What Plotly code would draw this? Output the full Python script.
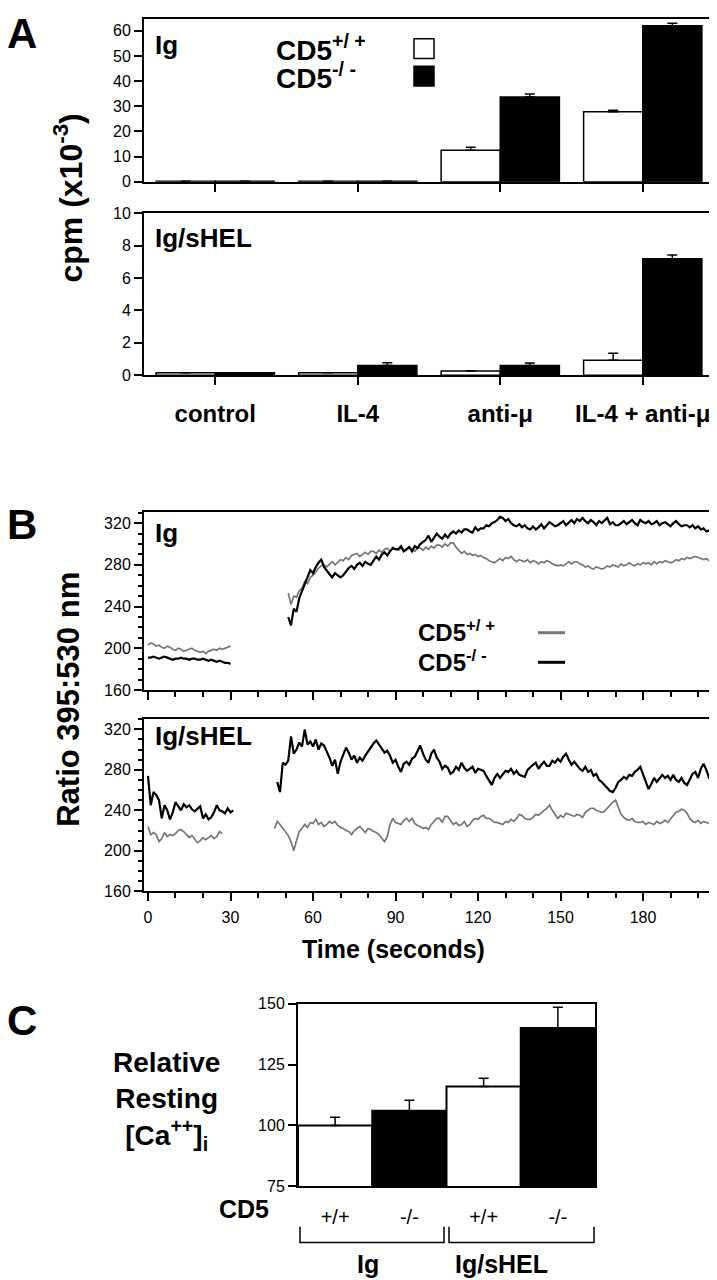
import plotly.graph_objects as go

W, H = 717, 1280
def px(x): return x / W
def py(y): return 1 - y / H

FONT = "Liberation Sans, Arial, Helvetica, sans-serif"

# ---------------- Panel A data ----------------
categories = ["control", "IL-4", "anti-μ", "IL-4 + anti-μ"]
ig_wt = [0.2, 0.2, 12.5, 27.8]
ig_wt_err = [0, 0, 1.2, 0.6]
ig_ko = [0.2, 0.2, 33.7, 62.0]
ig_ko_err = [0, 0, 1.2, 1.0]
shel_wt = [0.15, 0.15, 0.25, 0.92]
shel_wt_err = [0, 0, 0, 0.43]
shel_ko = [0.15, 0.6, 0.6, 7.2]
shel_ko_err = [0, 0.17, 0.15, 0.22]

# ---------------- Panel B data (ratio 395:530, 1 s sampling) ----------------
ig_wt_t0_a = 0
ig_wt_a = [203,205,204,202,203,201,200,202,201,199,198,200,199,197,198,199,200,198,197,196,
           197,195,197,198,199,198,200,199,200,201,202]
ig_ko_t0_a = 0
ig_ko_a = [191,191,192,191,190,191,192,191,190,189,190,190,191,190,190,189,190,190,189,189,
           190,189,188,189,188,187,188,187,186,186,185]
ig_wt_t0_b = 51
ig_wt_b = [253,242,250,249,255,258,264,262,268,270,
           273,277,279,280,278,281,283,280,283,285,
           284,287,285,289,290,291,288,290,292,290,
           293,293,291,294,292,295,296,293,297,295,
           294,296,293,294,297,295,293,296,296,294,
           297,295,298,296,299,299,297,300,298,301,
           301,297,294,291,293,290,291,289,290,288,
           289,287,286,284,283,282,284,286,284,287,
           286,288,285,283,285,284,283,285,282,284,
           283,281,283,282,284,283,281,280,279,280,
           279,281,283,281,283,283,281,280,278,279,
           277,276,278,277,276,277,279,278,280,279,
           278,281,279,280,282,280,279,281,280,282,
           281,282,280,283,281,283,282,284,283,282,
           283,285,284,286,285,287,286,287,288,287,
           286,285,286,284,283]
ig_ko_t0_b = 51
ig_ko_b = [230,222,238,235,248,255,262,268,275,272,
           278,282,285,278,274,271,268,272,270,268,
           270,274,277,279,276,280,282,279,283,281,
           280,284,288,285,290,292,289,293,296,295,
           295,298,293,295,297,293,298,296,300,302,
           304,308,302,306,310,307,305,309,306,310,
           312,310,313,311,314,314,312,311,316,313,
           315,315,318,317,320,321,323,326,325,322,
           324,320,318,317,319,316,318,315,314,317,
           314,316,319,315,318,321,319,317,318,320,
           322,318,321,323,320,324,322,325,322,320,
           323,321,318,322,320,323,325,319,321,318,
           318,320,322,319,321,323,320,318,323,321,
           320,322,319,320,322,318,320,321,319,317,
           320,322,319,317,318,318,316,318,315,317,
           314,315,312,313,312]

shel_wt_t0_a = 0
shel_wt_a = [224,216,218,216,209,212,218,214,216,215,217,220,221,219,216,213,215,212,208,210,
             213,211,213,215,212,214,219,217]
shel_ko_t0_a = 0
shel_ko_a = [274,245,258,255,250,232,245,240,231,238,248,244,240,246,243,245,241,239,242,244,
             232,236,231,233,238,245,240,239,237,242,238,240]
shel_wt_t0_b = 46
shel_wt_b = [222,229,226,222,218,215,209,200,210,219,
             222,226,223,228,227,231,226,228,224,226,
             229,227,229,225,223,222,220,219,216,220,
             222,224,221,218,222,221,219,218,216,213,
             209,214,226,232,228,227,226,230,232,229,
             232,227,225,224,222,223,221,226,229,232,
             232,228,234,234,230,226,228,225,226,229,
             224,226,230,232,231,234,235,232,232,230,
             228,228,227,226,229,228,231,229,232,236,
             235,232,231,231,233,236,235,238,240,242,
             245,240,236,232,235,233,237,236,235,234,
             236,235,233,238,240,242,242,240,239,238,
             239,242,246,248,250,242,236,233,231,230,
             232,229,228,228,229,226,228,227,226,229,
             227,228,230,228,231,235,238,239,241,240,
             237,232,229,228,230,227,229,228,227,228]
shel_ko_t0_b = 47
shel_ko_b = [268,258,287,285,289,313,296,300,307,303,
             320,305,308,303,310,300,306,304,298,292,
             284,290,276,288,295,302,297,290,294,287,
             292,289,294,298,303,306,309,305,300,297,
             299,294,287,290,283,278,286,288,285,291,
             293,298,304,296,290,287,296,300,292,288,
             281,284,282,276,278,283,280,287,282,279,
             281,283,277,281,280,279,274,270,265,272,
             276,272,276,279,278,281,276,279,275,274,
             273,280,283,285,287,281,285,288,284,284,
             289,287,291,288,293,296,290,285,288,284,
             281,279,283,278,280,274,276,270,268,265,
             262,259,258,262,268,270,273,271,275,274,
             278,280,283,276,270,261,266,272,268,271,
             275,272,274,270,275,270,268,272,267,265,
             270,276,278,272,281,286,280,272,273]

time_ticks = [0, 30, 60, 90, 120, 150, 180]
ratio_ticks = [160, 200, 240, 280, 320]

# ---------------- Panel C data ----------------
c_labels = ["+/+", "-/-", "+/+", "-/-"]
c_values = [100, 106, 116, 140]
c_err = [3.4, 4.3, 3.4, 8.5]
c_colors = ["white", "black", "white", "black"]
c_ticks = [75, 100, 125, 150]

def join(t0a, a, t0b, b):
    xs = [t0a + i for i in range(len(a))] + [None] + [t0b + i for i in range(len(b))]
    ys = list(a) + [None] + list(b)
    return xs, ys

GRAY = "#767676"
fig = go.Figure()

def err(arr):
    return dict(type="data", array=arr, arrayminus=[0] * len(arr), symmetric=False,
                color="black", thickness=1.5, width=5)

# Panel A top
fig.add_trace(go.Bar(x=categories, y=ig_wt, error_y=err(ig_wt_err), marker=dict(color="white", line=dict(color="black", width=1.5)),
                     xaxis="x", yaxis="y", showlegend=False))
fig.add_trace(go.Bar(x=categories, y=ig_ko, error_y=err(ig_ko_err), marker=dict(color="black", line=dict(color="black", width=1.5)),
                     xaxis="x", yaxis="y", showlegend=False))
# Panel A bottom
fig.add_trace(go.Bar(x=categories, y=shel_wt, error_y=err(shel_wt_err), marker=dict(color="white", line=dict(color="black", width=1.5)),
                     xaxis="x2", yaxis="y2", showlegend=False))
fig.add_trace(go.Bar(x=categories, y=shel_ko, error_y=err(shel_ko_err), marker=dict(color="black", line=dict(color="black", width=1.5)),
                     xaxis="x2", yaxis="y2", showlegend=False))

# Panel B
x, y = join(ig_wt_t0_a, ig_wt_a, ig_wt_t0_b, ig_wt_b)
fig.add_trace(go.Scatter(x=x, y=y, mode="lines", line=dict(color=GRAY, width=1.7), xaxis="x3", yaxis="y3", showlegend=False))
x, y = join(ig_ko_t0_a, ig_ko_a, ig_ko_t0_b, ig_ko_b)
fig.add_trace(go.Scatter(x=x, y=y, mode="lines", line=dict(color="black", width=2.2), xaxis="x3", yaxis="y3", showlegend=False))
x, y = join(shel_wt_t0_a, shel_wt_a, shel_wt_t0_b, shel_wt_b)
fig.add_trace(go.Scatter(x=x, y=y, mode="lines", line=dict(color=GRAY, width=1.7), xaxis="x4", yaxis="y4", showlegend=False))
x, y = join(shel_ko_t0_a, shel_ko_a, shel_ko_t0_b, shel_ko_b)
fig.add_trace(go.Scatter(x=x, y=y, mode="lines", line=dict(color="black", width=2.2), xaxis="x4", yaxis="y4", showlegend=False))

# Panel C
fig.add_trace(go.Bar(x=[0, 1, 2, 3], y=c_values, error_y=err(c_err),
                     marker=dict(color=c_colors, line=dict(color="black", width=2)),
                     xaxis="x5", yaxis="y5", showlegend=False, width=1))

axline = dict(showline=True, linecolor="black", linewidth=2, mirror=True, showgrid=False, zeroline=False,
              tickcolor="black", tickwidth=1.5, tickfont=dict(family=FONT, size=16, color="black"))

fig.update_layout(
    width=W, height=H, margin=dict(l=0, r=0, t=0, b=0),
    paper_bgcolor="white", plot_bgcolor="white",
    barmode="group", bargap=0.17, bargroupgap=0,
    font=dict(family=FONT, color="black"),
)

xdom = [px(136), px(706)]
fig.update_layout(
    xaxis=dict(domain=xdom, anchor="y", range=[-0.5, 3.5], showticklabels=False, ticks="outside", ticklen=8, **axline),
    yaxis=dict(domain=[py(168), py(3.5)], anchor="x", range=[0, 64.5], tickvals=[0, 10, 20, 30, 40, 50, 60],
               ticks="outside", ticklen=8, **axline),
    xaxis2=dict(domain=xdom, anchor="y2", range=[-0.5, 3.5], ticks="outside", ticklen=8, ticklabelstandoff=8,
                **{**axline, "tickfont": dict(family=FONT, size=24, color="black", weight="bold")}),
    yaxis2=dict(domain=[py(364), py(200)], anchor="x2", range=[0, 10], tickvals=[0, 2, 4, 6, 8, 10],
                ticks="outside", ticklen=8, **axline),
    xaxis3=dict(domain=xdom, anchor="y3", range=[-1.45, 205.8], tickvals=time_ticks, showticklabels=False,
                ticks="outside", ticklen=8, minor=dict(dtick=10, tick0=0, ticks="outside", ticklen=5, tickcolor="black"), **axline),
    yaxis3=dict(domain=[py(683), py(503)], anchor="x3", range=[160, 330.4], tickvals=ratio_ticks,
                ticks="outside", ticklen=8, minor=dict(dtick=10, tick0=160, ticks="outside", ticklen=4, tickcolor="black"), **axline),
    xaxis4=dict(domain=xdom, anchor="y4", range=[-1.45, 205.8], tickvals=time_ticks, ticklabelstandoff=3,
                ticks="outside", ticklen=8, minor=dict(dtick=10, tick0=0, ticks="outside", ticklen=5, tickcolor="black"), **axline),
    yaxis4=dict(domain=[py(887), py(712)], anchor="x4", range=[160, 330.7], tickvals=ratio_ticks,
                ticks="outside", ticklen=8, minor=dict(dtick=10, tick0=160, ticks="outside", ticklen=4, tickcolor="black"), **axline),
    xaxis5=dict(domain=[px(290), px(587)], anchor="y5", range=[-0.5, 3.5], tickvals=[0, 1, 2, 3], ticktext=c_labels,
                ticks="", ticklabelstandoff=12, **{**axline, "tickfont": dict(family=FONT, size=20, color="black")}),
    yaxis5=dict(domain=[py(1186), py(1001)], anchor="x5", range=[75, 150], tickvals=c_ticks,
                ticks="outside", ticklen=8, **axline),
)

ann = []
def text(x, y, s, size, bold=True, xanchor="left", yanchor="middle", angle=0):
    ann.append(dict(x=px(x), y=py(y), xref="paper", yref="paper", text=s, showarrow=False,
                    xanchor=xanchor, yanchor=yanchor, textangle=angle,
                    font=dict(family=FONT, size=size, color="black", weight="bold" if bold else "normal")))

# panel letters
text(-3, 18, "A", 42)
text(-3, 515, "B", 42)
text(-3, 1018, "C", 42)
# axis titles
text(60, 185, "cpm (x10<sup>-3</sup>)", 32, xanchor="center", angle=-90)
text(61, 693, "Ratio 395:530 nm", 31, xanchor="center", angle=-90)
text(385, 946, "Time (seconds)", 25, xanchor="center")
# panel inner labels
text(145, 29, "Ig", 26)
text(145, 225, "Ig/sHEL", 26)
text(145, 524, "Ig", 26)
text(145, 730, "Ig/sHEL", 26)
# legend A
text(266, 32, "CD5<sup>+/ +</sup>", 28)
text(266, 61, "CD5<sup>-/ -</sup>", 28)
# legend B
text(408, 623, "CD5<sup>+/ +</sup>", 24)
text(408, 654, "CD5<sup>-/ -</sup>", 24)
# panel C
text(158, 1100, "Relative<br>Resting<br>[Ca<sup>++</sup>]<sub>i</sub>", 28, xanchor="center")
text(263, 1209, "CD5", 25, xanchor="right")
text(360, 1265, "Ig", 25, xanchor="center")
text(493, 1265, "Ig/sHEL", 25, xanchor="center")
fig.update_layout(annotations=ann)

shapes = [
    # legend A squares
    dict(type="rect", xref="paper", yref="paper", x0=px(406), x1=px(426), y0=py(43), y1=py(23),
         line=dict(color="black", width=1.5), fillcolor="white"),
    dict(type="rect", xref="paper", yref="paper", x0=px(406), x1=px(426), y0=py(71), y1=py(51),
         line=dict(color="black", width=1.5), fillcolor="black"),
    # legend B lines
    dict(type="line", xref="paper", yref="paper", x0=px(530), x1=px(557), y0=py(625), y1=py(625),
         line=dict(color=GRAY, width=3)),
    dict(type="line", xref="paper", yref="paper", x0=px(530), x1=px(557), y0=py(655), y1=py(655),
         line=dict(color="black", width=3)),
    # brackets panel C
    dict(type="path", xref="paper", yref="paper",
         path=f"M {px(292)} {py(1227)} L {px(292)} {py(1243)} L {px(436)} {py(1243)} L {px(436)} {py(1227)}",
         line=dict(color="black", width=1.5)),
    dict(type="path", xref="paper", yref="paper",
         path=f"M {px(441)} {py(1227)} L {px(441)} {py(1243)} L {px(586)} {py(1243)} L {px(586)} {py(1227)}",
         line=dict(color="black", width=1.5)),
]
fig.update_layout(shapes=shapes)

fig.write_html("out.html")
